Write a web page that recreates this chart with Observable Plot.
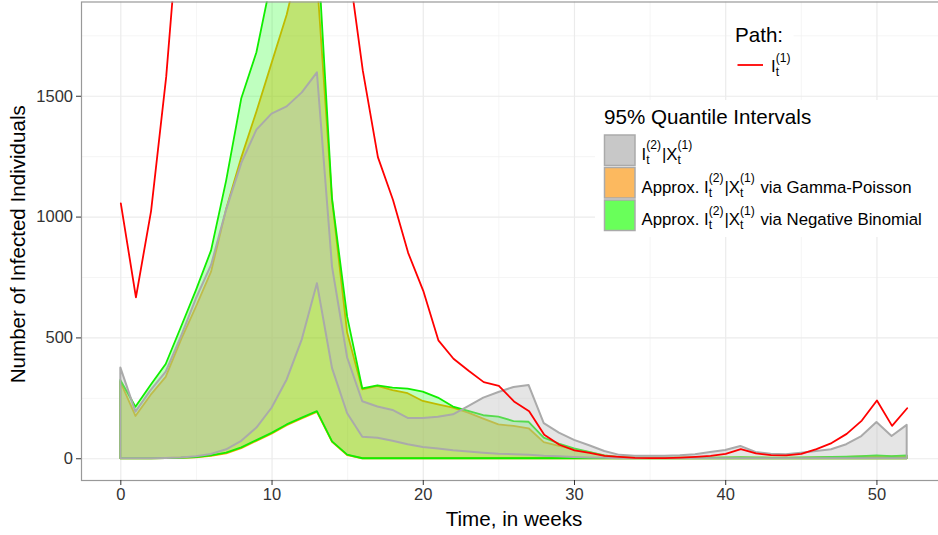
<!DOCTYPE html>
<html>
<head>
<meta charset="utf-8">
<script src="https://cdn.jsdelivr.net/npm/d3@7"></script>
<script src="https://cdn.jsdelivr.net/npm/@observablehq/plot@0.6"></script>
<style>
  html, body { margin: 0; padding: 0; background: #fff; }
  #wrap { position: relative; width: 938px; height: 535px; overflow: hidden; }
  #wrap svg { max-width: none !important; }
</style>
</head>
<body>
<div id="wrap"></div>
<script>
const FONT = "'Liberation Sans', Arial, Helvetica, sans-serif";

// ---- data ----
const weeks = d3.range(0, 53);
const pathI1 = [1057, 668, 1025, 1580, 2350, 3150, 3900, 4500, 4850, 4900,
  4650, 4200, 3650, 3100, 2550, 2070, 1607, 1248, 1071, 852,
  695, 490, 414, 364, 317, 302, 237, 197, 99, 58,
  35, 24, 12, 8, 4, 3, 3, 5, 8, 12,
  20, 40, 22, 15, 14, 20, 40, 65, 103, 158,
  241, 136, 209];
const exactLo = [0, 0, 0, 1, 3, 8, 18, 37, 72, 127,
  209, 326, 492, 724, 373, 186, 89, 85, 72, 58,
  47, 40, 33, 28, 23, 19, 17, 14, 10, 8,
  5, 3, 2, 0, 0, 0, 0, 0, 0, 0,
  0, 0, 0, 0, 0, 0, 0, 0, 0, 0,
  0, 0, 0];
const exactHi = [376, 193, 282, 358, 503, 662, 800, 1030, 1222, 1360,
  1426, 1456, 1514, 1597, 793, 417, 236, 214, 200, 167,
  167, 172, 182, 216, 251, 274, 295, 303, 145, 106,
  76, 54, 30, 14, 10, 10, 10, 12, 17, 26,
  34, 51, 26, 19, 17, 23, 30, 37, 58, 92,
  150, 92, 138];
const gammaPoisLo = [0, 0, 0, 1, 2, 4, 10, 20, 42, 72,
  102, 137, 165, 192, 68, 13, 0, 0, 0, 0,
  0, 0, 0, 0, 0, 0, 0, 0, 0, 0,
  0, 0, 0, 0, 0, 0, 0, 0, 0, 0,
  0, 0, 0, 0, 0, 0, 0, 0, 0, 0,
  0, 0, 0];
const gammaPoisHi = [317, 175, 262, 337, 489, 627, 772, 1032, 1245, 1435,
  1635, 1835, 2100, 1985, 1068, 520, 285, 299, 282, 269,
  237, 223, 209, 189, 164, 140, 134, 124, 67, 51,
  37, 25, 12, 5, 3, 2, 2, 2, 2, 3,
  3, 4, 3, 3, 3, 3, 4, 5, 6, 8,
  10, 8, 10];
const negBinLo = [0, 0, 0, 1, 2, 5, 12, 23, 45, 75,
  105, 140, 168, 195, 70, 15, 0, 0, 0, 0,
  0, 0, 0, 0, 0, 0, 0, 0, 0, 0,
  0, 0, 0, 0, 0, 0, 0, 0, 0, 0,
  0, 0, 0, 0, 0, 0, 0, 0, 0, 0,
  0, 0, 0];
const negBinHi = [324, 213, 303, 390, 542, 696, 860, 1150, 1490, 1680,
  1985, 2150, 2250, 2164, 1075, 586, 289, 302, 292, 288,
  276, 251, 214, 196, 178, 172, 154, 151, 85, 61,
  41, 26, 12, 5, 3, 2, 2, 2, 3, 3,
  4, 5, 4, 3, 3, 4, 5, 6, 7, 9,
  12, 9, 12];

const xTicks = [0, 10, 20, 30, 40, 50];
const xMinor = [5, 15, 25, 35, 45];
const yTicks = [0, 500, 1000, 1500];
const yMinor = [250, 750, 1250, 1750];

const xTitle = "Time, in weeks";
const yTitle = "Number of Infected Individuals";
const pathTitle = "Path:";
const bandTitle = "95% Quantile Intervals";
const bandKeyColors = ["#c8c8c8", "#fcb95f", "#69ff5a"];

const rows = weeks.map((t, i) => ({
  t, red: pathI1[i],
  gl: exactLo[i], gu: exactHi[i],
  ol: gammaPoisLo[i], ou: gammaPoisHi[i],
  nl: negBinLo[i], nu: negBinHi[i]
}));

const chart = Plot.plot({
  width: 946, height: 535,
  marginLeft: 81, marginRight: 0, marginTop: 1.5, marginBottom: 55,
  style: { fontFamily: FONT, fontSize: "16.5px", background: "white", overflow: "visible", maxWidth: "none" },
  x: { domain: [-2.6, 54.6], label: null },
  y: { domain: [-90, 1890], label: null },
  marks: [
    Plot.ruleX(xMinor, { stroke: "#f2f2f2", strokeWidth: 0.8 }),
    Plot.ruleY(yMinor, { stroke: "#f2f2f2", strokeWidth: 0.8 }),
    Plot.ruleX(xTicks, { stroke: "#ebebeb", strokeWidth: 1.2 }),
    Plot.ruleY(yTicks, { stroke: "#ebebeb", strokeWidth: 1.2 }),
    Plot.areaY(rows, { x: "t", y1: "ol", y2: "ou", fill: "#ffa500", fillOpacity: 0.4, stroke: "#ffa500", strokeWidth: 1.8, clip: true }),
    Plot.areaY(rows, { x: "t", y1: "nl", y2: "nu", fill: "#00ff00", fillOpacity: 0.25, stroke: "#11ee00", strokeWidth: 1.8, clip: true }),
    Plot.areaY(rows, { x: "t", y1: "gl", y2: "gu", fill: "#bebebe", fillOpacity: 0.4, stroke: "#aaaaaa", strokeWidth: 2, clip: true }),
    Plot.lineY(rows, { x: "t", y: "red", stroke: "#ff0000", strokeWidth: 1.8, clip: true }),
    Plot.frame({ stroke: "#999999", strokeWidth: 1.2 }),
    Plot.axisX({ ticks: xTicks, tickFormat: d => String(d), tickSize: 5, tickPadding: 3, color: "#333", fontSize: 16.5, label: null }),
    Plot.axisY({ ticks: yTicks, tickFormat: d => String(d), tickSize: 5, tickPadding: 3.5, color: "#333", fontSize: 16.5, label: null }),
    Plot.text([xTitle], { text: d => d, frameAnchor: "bottom", dy: 39, lineAnchor: "middle", textAnchor: "middle", fontSize: 20.6, fill: "black" }),
    Plot.text([yTitle], { text: d => d, frameAnchor: "left", dx: -63, dy: 3, rotate: -90, lineAnchor: "middle", textAnchor: "middle", fontSize: 20.6, fill: "black" })
  ]
});
chart.style.maxWidth = "none";
document.getElementById("wrap").appendChild(chart);

// ---- legends (inside the panel, top right) ----
const svg = d3.select(chart);
const lg = svg.append("g").attr("font-family", FONT).attr("text-anchor", "start");

function mathText(g, x, y, parts, size) {
  let cx = x;
  for (const p of parts) {
    if (typeof p === "string") {
      const el = g.append("text").attr("x", cx).attr("y", y)
        .attr("font-size", size).attr("fill", "black").attr("text-anchor", "start")
        .style("white-space", "pre").text(p);
      cx += el.node().getComputedTextLength();
    } else {
      const s = size * 0.72;
      const a = g.append("text").attr("x", cx).attr("y", y + size * 0.25)
        .attr("font-size", s).attr("fill", "black").attr("text-anchor", "start").text(p.sub);
      const b = g.append("text").attr("x", cx).attr("y", y - size * 0.6)
        .attr("font-size", s).attr("fill", "black").attr("text-anchor", "start").text(p.sup);
      cx += Math.max(a.node().getComputedTextLength(), b.node().getComputedTextLength()) + 1;
    }
  }
  return cx;
}

// Path legend
lg.append("rect").attr("x", 731.5).attr("y", 16).attr("width", 62).attr("height", 72).attr("fill", "white");
lg.append("text").attr("x", 735).attr("y", 41.5).attr("font-size", 20.6).attr("fill", "black").text(pathTitle);
lg.append("line").attr("x1", 737.5).attr("x2", 763).attr("y1", 65).attr("y2", 65)
  .attr("stroke", "#ff0000").attr("stroke-width", 1.8);
mathText(lg, 771, 72, ["I", { sub: "t", sup: "(1)" }], 16.8);

// Interval legend
lg.append("rect").attr("x", 595).attr("y", 100).attr("width", 360).attr("height", 137).attr("fill", "white");
lg.append("text").attr("x", 604).attr("y", 124).attr("font-size", 20.6).attr("fill", "black").text(bandTitle);
const keyY = [135, 167.5, 200];
const baseY = [159.5, 192.5, 225];
const labels = [
  ["I", { sub: "t", sup: "(2)" }, "|X", { sub: "t", sup: "(1)" }],
  ["Approx. I", { sub: "t", sup: "(2)" }, "|X", { sub: "t", sup: "(1)" }, " via Gamma-Poisson"],
  ["Approx. I", { sub: "t", sup: "(2)" }, "|X", { sub: "t", sup: "(1)" }, " via Negative Binomial"]
];
bandKeyColors.forEach((c, i) => {
  lg.append("rect").attr("x", 604.5).attr("y", keyY[i]).attr("width", 30.5).attr("height", 30.5)
    .attr("fill", c).attr("stroke", "#aaaaaa").attr("stroke-width", 1.5);
  mathText(lg, 641.5, baseY[i], labels[i], 16.8);
});
</script>
</body>
</html>
